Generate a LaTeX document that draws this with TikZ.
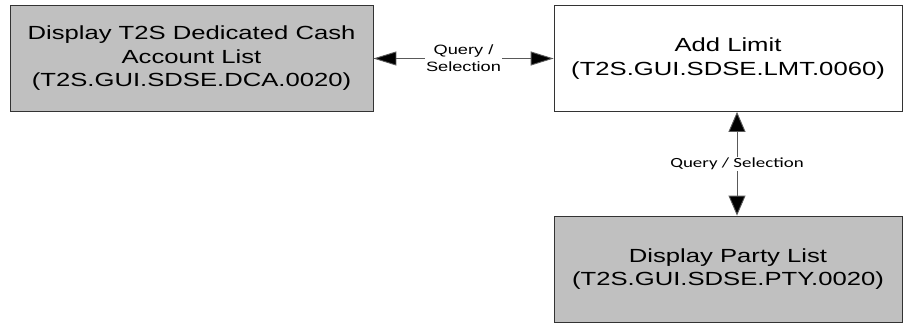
\documentclass[tikz,border=0pt]{standalone}
\usepackage{fontspec}
\setmainfont{Liberation Sans}
\newfontfamily\boxfont[FakeStretch=1.35]{Liberation Sans}
\newfontfamily\lblfont[FakeStretch=1.35]{Carlito}
\usetikzlibrary{arrows.meta}
\definecolor{boxgray}{HTML}{C0C0C0}
\begin{document}
\begin{tikzpicture}[x=1pt,y=-1pt,
  box/.style={draw=black!80, line width=0.8pt, minimum width=#1, minimum height=106pt, inner sep=0pt, align=center, font=\boxfont\fontsize{19}{23.5}\selectfont},
  conn/.style={draw=black!65, line width=0.9pt, {Triangle[length=23pt,width=14pt,fill=black]}-{Triangle[length=23pt,width=14pt,fill=black]}},
  vconn/.style={draw=black!65, line width=0.9pt, {Triangle[length=20pt,width=17pt,fill=black]}-{Triangle[length=20pt,width=17pt,fill=black]}},
  lbl/.style={fill=white, inner sep=1pt, align=center}]
\useasboundingbox (0,0) rectangle (909,326);
\node[box=363pt, fill=boxgray] (dca) at (191.5,58.5) {Display T2S Dedicated Cash\\Account List\\(T2S.GUI.SDSE.DCA.0020)};
\node[box=348pt, fill=white] (lmt) at (728,58.5) {Add Limit\\(T2S.GUI.SDSE.LMT.0060)};
\node[box=348pt, fill=boxgray] (pty) at (728,269) {Display Party List\\(T2S.GUI.SDSE.PTY.0020)};
\draw[conn] (dca.east) -- (lmt.west) node[lbl, midway, font=\boxfont\fontsize{13.5}{17}\selectfont] (l1) {Query /\\Selection};
\draw[vconn] ([xshift=9pt]lmt.south) -- ([xshift=9pt]pty.north) node[lbl, pos=0.5, font=\lblfont\fontsize{14}{16}\selectfont] (l2) {Query / Selection};
\end{tikzpicture}
\end{document}
